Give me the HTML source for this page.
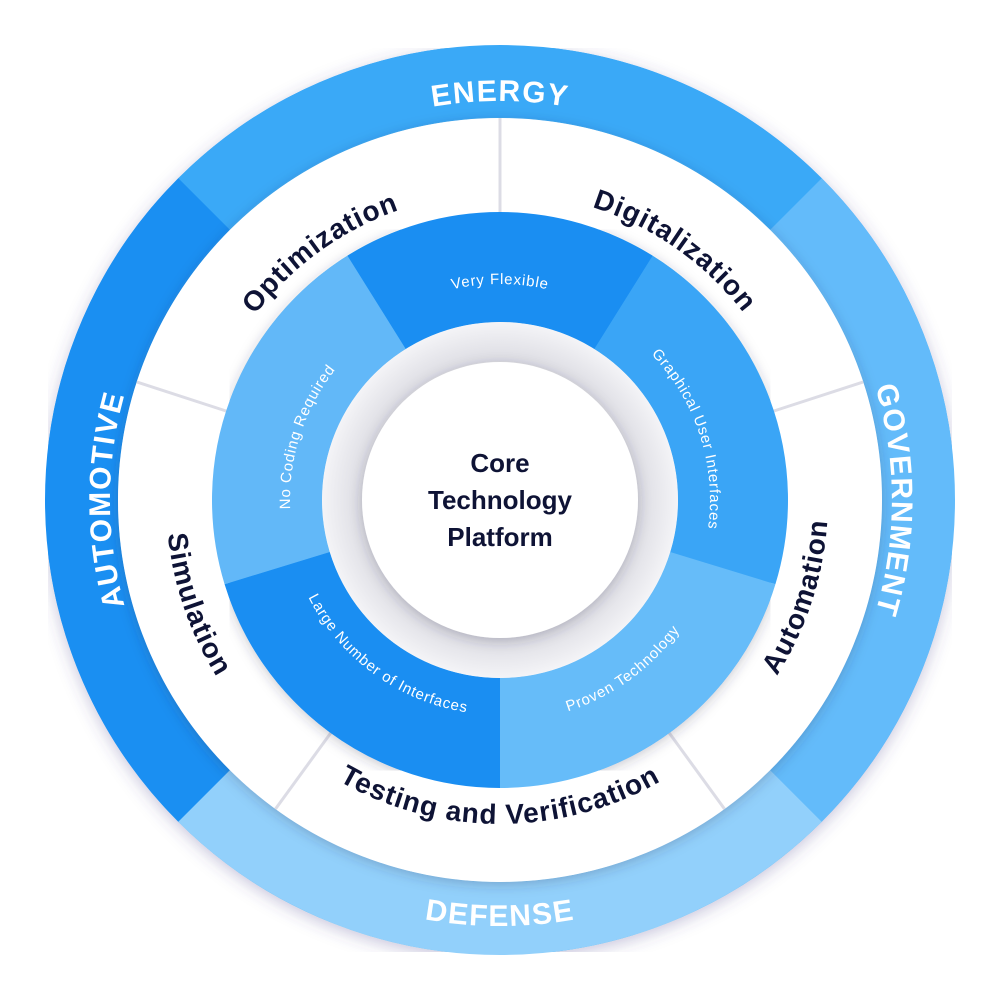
<!DOCTYPE html>
<html><head><meta charset="utf-8"><style>
html,body{margin:0;padding:0;background:#fff;width:1000px;height:1000px;overflow:hidden;}
svg{display:block;position:absolute;left:0;top:0;}
.o{font-family:"Liberation Sans",sans-serif;font-weight:bold;font-size:30px;fill:#fff;letter-spacing:1.5px;}
.w{font-family:"Liberation Sans",sans-serif;font-weight:bold;font-size:28px;fill:#0e1335;letter-spacing:1px;}
.i{font-family:"Liberation Sans",sans-serif;font-size:15px;fill:#fff;letter-spacing:0.8px;}
.c{font-family:"Liberation Sans",sans-serif;font-weight:bold;font-size:26px;fill:#0e1335;}
</style></head><body>
<svg width="1000" height="1000" viewBox="0 0 1000 1000" xmlns="http://www.w3.org/2000/svg" overflow="hidden">
<defs>
<filter id="sh" x="-4%" y="-4%" width="108%" height="108%"><feDropShadow dx="0" dy="4" stdDeviation="8" flood-color="#4a3f8a" flood-opacity="0.3"/></filter>
<filter id="sh2" x="-8%" y="-8%" width="116%" height="116%"><feDropShadow dx="0" dy="3" stdDeviation="6" flood-color="#303050" flood-opacity="0.25"/></filter>
<radialGradient id="g1" cx="50%" cy="50%" r="50%"><stop offset="75%" stop-color="#d9d9e0"/><stop offset="100%" stop-color="#f4f4f7"/></radialGradient>
<path id="cw399" d="M101,500 A399,399 0 0 1 899,500"/>
<path id="cw392" d="M108,500 A392,392 0 0 1 892,500"/>
<path id="cw390" d="M110,500 A390,390 0 0 1 890,500"/>
<path id="ccw426" d="M74,500 A426,426 0 0 0 926,500"/>
<path id="cw307" d="M193,500 A307,307 0 0 1 807,500"/>
<path id="ccw328" d="M172,500 A328,328 0 0 0 828,500"/>
<path id="ccw324" d="M176,500 A324,324 0 0 0 824,500"/>
<path id="ccw334" d="M166,500 A334,334 0 0 0 834,500"/>
<path id="cw216" d="M284,500 A216,216 0 0 1 716,500"/>
<path id="cw210" d="M290,500 A210,210 0 0 1 710,500"/>
<path id="ccw222" d="M278,500 A222,222 0 0 0 722,500"/>
<path id="ccw215" d="M285,500 A215,215 0 0 0 715,500"/>
</defs>

<g filter="url(#sh)">
<circle cx="500" cy="500" r="418.5" fill="none" stroke="#3aa9f7" stroke-width="73"/>
</g>
<g fill="none" stroke-width="73">
<circle cx="500" cy="500" r="418.5" stroke="#3aa9f7" stroke-dasharray="657.4 2629.5" transform="rotate(-135 500 500)"/>
<circle cx="500" cy="500" r="418.5" stroke="#63bbfa" stroke-dasharray="657.4 2629.5" transform="rotate(-45 500 500)"/>
<circle cx="500" cy="500" r="418.5" stroke="#92d0fb" stroke-dasharray="657.4 2629.5" transform="rotate(45 500 500)"/>
<circle cx="500" cy="500" r="418.5" stroke="#1a8ff2" stroke-dasharray="657.4 2629.5" transform="rotate(135 500 500)"/>
</g>

<circle cx="500" cy="500" r="382" fill="#fff" filter="url(#sh2)"/>
<g stroke="#dcdce5" stroke-width="3">
<line x1="500" y1="212" x2="500" y2="118"/>
<line x1="500" y1="212" x2="500" y2="118" transform="rotate(72 500 500)"/>
<line x1="500" y1="212" x2="500" y2="118" transform="rotate(144 500 500)"/>
<line x1="500" y1="212" x2="500" y2="118" transform="rotate(216 500 500)"/>
<line x1="500" y1="212" x2="500" y2="118" transform="rotate(288 500 500)"/>
</g>

<g filter="url(#sh2)">
<circle cx="500" cy="500" r="233" fill="none" stroke="#3aa5f6" stroke-width="110"/>
</g>
<g fill="none" stroke-width="110">
<circle cx="500" cy="500" r="233" stroke="#1a8ef2" stroke-dasharray="260.3 1464" transform="rotate(-122 500 500)"/>
<circle cx="500" cy="500" r="233" stroke="#3aa5f6" stroke-dasharray="305 1464" transform="rotate(-58 500 500)"/>
<circle cx="500" cy="500" r="233" stroke="#66bcf9" stroke-dasharray="296.9 1464" transform="rotate(17 500 500)"/>
<circle cx="500" cy="500" r="233" stroke="#1a8ef2" stroke-dasharray="296.9 1464" transform="rotate(90 500 500)"/>
<circle cx="500" cy="500" r="233" stroke="#62b8f8" stroke-dasharray="305 1464" transform="rotate(163 500 500)"/>
</g>

<circle cx="500" cy="500" r="178" fill="url(#g1)"/>
<circle cx="500" cy="500" r="138" fill="#fff" filter="url(#sh2)"/>
<text class="c" x="500" y="472" text-anchor="middle">Core</text>
<text class="c" x="500" y="509" text-anchor="middle">Technology</text>
<text class="c" x="500" y="546" text-anchor="middle">Platform</text>

<text class="o" text-anchor="middle"><textPath href="#cw399" startOffset="50%">ENERGY</textPath></text>
<g transform="rotate(90 500 500)"><text class="o" text-anchor="middle"><textPath href="#cw392" startOffset="50%">GOVERNMENT</textPath></text></g>
<g transform="rotate(-90 500 500)"><text class="o" text-anchor="middle"><textPath href="#cw390" startOffset="50%">AUTOMOTIVE</textPath></text></g>
<text class="o" text-anchor="middle"><textPath href="#ccw426" startOffset="50%">DEFENSE</textPath></text>

<g transform="rotate(-36 500 500)"><text class="w" text-anchor="middle"><textPath href="#cw307" startOffset="50%">Optimization</textPath></text></g>
<g transform="rotate(35 500 500)"><text class="w" text-anchor="middle"><textPath href="#cw307" startOffset="50%">Digitalization</textPath></text></g>
<g transform="rotate(-72 500 500)"><text class="w" text-anchor="middle"><textPath href="#ccw328" startOffset="50%">Automation</textPath></text></g>
<text class="w" text-anchor="middle"><textPath href="#ccw324" startOffset="50%">Testing and Verification</textPath></text>
<g transform="rotate(71 500 500)"><text class="w" text-anchor="middle"><textPath href="#ccw334" startOffset="50%">Simulation</textPath></text></g>

<text class="i" text-anchor="middle"><textPath href="#cw216" startOffset="50%">Very Flexible</textPath></text>
<g transform="rotate(72 500 500)"><text class="i" text-anchor="middle"><textPath href="#cw210" startOffset="50%">Graphical User Interfaces</textPath></text></g>
<g transform="rotate(-72 500 500)"><text class="i" text-anchor="middle"><textPath href="#cw210" startOffset="50%">No Coding Required</textPath></text></g>
<g transform="rotate(-36 500 500)"><text class="i" text-anchor="middle"><textPath href="#ccw222" startOffset="50%">Proven Technology</textPath></text></g>
<g transform="rotate(36 500 500)"><text class="i" text-anchor="middle"><textPath href="#ccw215" startOffset="50%">Large Number of Interfaces</textPath></text></g>
</svg>
</body></html>
